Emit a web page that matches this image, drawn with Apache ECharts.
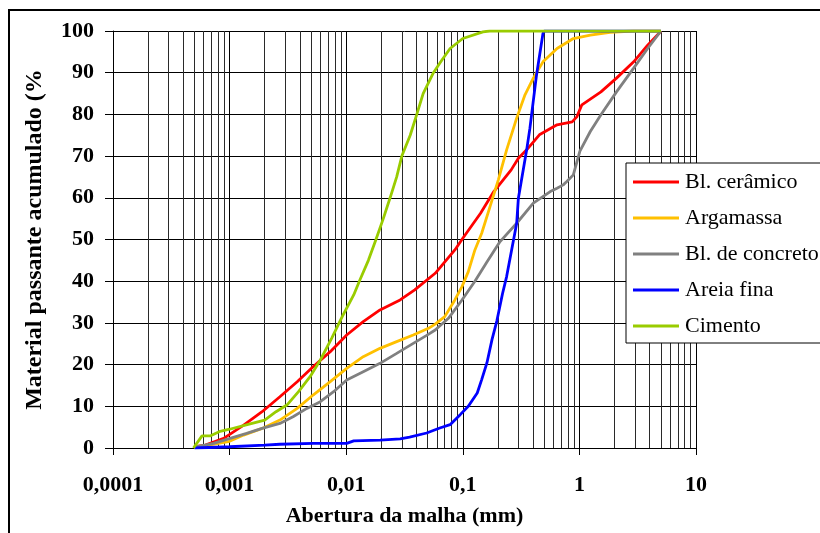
<!DOCTYPE html>
<html>
<head>
<meta charset="utf-8">
<script src="https://cdn.jsdelivr.net/npm/echarts@6/dist/echarts.min.js"></script>
<style>
html,body{margin:0;padding:0;background:#fff;}
#chart{width:820px;height:533px;}
</style>
</head>
<body>
<div id="chart"></div>
<script>
// ---- Data ----
var seriesNames = ['Bl. cerâmico', 'Argamassa', 'Bl. de concreto', 'Areia fina', 'Cimento'];
var seriesColors = ['#ff0000', '#ffc000', '#808080', '#0000ff', '#99cc00'];

var ceramicoX = [0.0005, 0.00062, 0.00089, 0.00132, 0.0019, 0.0027, 0.0038, 0.0052, 0.0073, 0.0101, 0.014, 0.0195, 0.029, 0.0387, 0.058, 0.0855, 0.1, 0.142, 0.1845, 0.26, 0.2997, 0.353, 0.4538, 0.643, 0.866, 0.95, 1.05, 1.53, 2.08, 2.92, 3.85, 4.8, 5];
var ceramicoY = [0.3, 0.7, 2.3, 5.5, 8.7, 12.3, 15.9, 19.5, 23.1, 27.1, 30.3, 33.1, 35.5, 37.9, 41.9, 47.5, 50.3, 56.3, 61.5, 66.7, 69.5, 71.5, 75.1, 77.5, 78.2, 79.4, 82.3, 85.4, 88.7, 92.6, 96.6, 99.4, 100];

var argamassaX = [0.0005, 0.0007, 0.001, 0.00132, 0.0019, 0.0027, 0.0038, 0.0052, 0.0073, 0.0101, 0.014, 0.0195, 0.0271, 0.0376, 0.0508, 0.058, 0.07, 0.0855, 0.0984, 0.1115, 0.127, 0.1452, 0.1712, 0.2017, 0.2376, 0.2898, 0.3415, 0.4024, 0.487, 0.643, 0.887, 1.24, 1.83, 2.9, 5];
var argamassaY = [0.2, 0.8, 1.6, 3.1, 4.7, 6.7, 9.5, 12.7, 15.9, 19.1, 21.9, 23.9, 25.5, 27.1, 28.7, 29.7, 31.5, 35.5, 38.7, 42.3, 47.5, 51.5, 57.9, 64.3, 71.5, 79.1, 84.7, 88.7, 92.6, 95.8, 98.2, 99.0, 99.7, 100, 100];

var concretoX = [0.0005, 0.00073, 0.00101, 0.0014, 0.0019, 0.0027, 0.0035, 0.0046, 0.006, 0.0078, 0.0101, 0.014, 0.0195, 0.0271, 0.0376, 0.049, 0.058, 0.0753, 0.0984, 0.127, 0.16, 0.2087, 0.2898, 0.4024, 0.5624, 0.643, 0.7265, 0.78, 0.887, 0.92, 1.01, 1.24, 1.53, 2.08, 2.92, 3.85, 5];
var concretoY = [0.2, 1.1, 2.3, 3.5, 4.7, 5.9, 7.5, 9.5, 11.1, 13.5, 16.3, 18.3, 20.3, 22.7, 25.1, 27, 28.3, 31.1, 35.5, 40, 44.5, 49.5, 53.9, 58.7, 61.5, 62.3, 63.1, 63.9, 65.5, 67.1, 71.2, 75.9, 79.9, 85.4, 91.1, 95.8, 100];

var areiaX = [0.0005, 0.001, 0.002, 0.0027, 0.0052, 0.0101, 0.0116, 0.0195, 0.029, 0.035, 0.049, 0.0635, 0.0778, 0.095, 0.1115, 0.133, 0.1452, 0.161, 0.178, 0.196, 0.219, 0.2376, 0.2898, 0.2997, 0.353, 0.3764, 0.4286, 0.487, 0.5, 5];
var areiaY = [0, 0.3, 0.7, 0.9, 1.1, 1.1, 1.7, 1.9, 2.2, 2.6, 3.6, 4.8, 5.6, 8.0, 10, 13.2, 16.4, 20.4, 26.0, 30.5, 37, 41.1, 53.9, 59.9, 71.5, 76.7, 89.4, 99.4, 100, 100];

var cimentoX = [0.00049, 0.00058, 0.00068, 0.00083, 0.001, 0.0015, 0.002, 0.0025, 0.0031, 0.0039, 0.0049, 0.006, 0.0075, 0.0094, 0.0116, 0.0131, 0.0155, 0.018, 0.0208, 0.0238, 0.0271, 0.03, 0.0354, 0.0403, 0.0457, 0.056, 0.066, 0.0778, 0.1, 0.149, 0.17, 5];
var cimentoY = [0, 2.9, 2.9, 4.0, 4.5, 5.8, 6.7, 8.7, 10.3, 13.5, 17.1, 21.1, 26.3, 31.9, 36.7, 40.3, 45, 50, 55, 60, 65, 70, 75, 80, 85, 90, 93, 95.8, 98.2, 99.8, 100, 100];

var xTickLabels = ['0,0001', '0,001', '0,01', '0,1', '1', '10'];
var yTickValues = [0, 10, 20, 30, 40, 50, 60, 70, 80, 90, 100];

var xTitle = 'Abertura da malha (mm)';
var yTitle = 'Material passante acumulado (%';

// grid line positions of the log axis (decades and their 2..9 multiples)
var decades = [0.0001, 0.001, 0.01, 0.1, 1, 10];
var minorMult = [2, 3, 4, 5, 6, 7, 8, 9];

function zip(xs, ys) { return xs.map(function (x, i) { return [x, ys[i]]; }); }
var allX = [ceramicoX, argamassaX, concretoX, areiaX, cimentoX];
var allY = [ceramicoY, argamassaY, concretoY, areiaY, cimentoY];

var minorLines = [];
for (var d = 0; d < decades.length - 1; d++) {
  for (var m = 0; m < minorMult.length; m++) {
    var v = +(decades[d] * minorMult[m]).toPrecision(6);
    minorLines.push({ coords: [[v, 0], [v, 100]] });
  }
}
var majorLines = decades.map(function (v) { return { coords: [[v, 0], [v, 100]] }; });

var FONT = 'Liberation Serif';

var series = [{
  name: '_minor',
  type: 'lines',
  coordinateSystem: 'cartesian2d',
  silent: true,
  z: 1,
  symbol: ['none', 'none'],
  lineStyle: { color: '#2a2a2a', width: 1, opacity: 1, curveness: 0 },
  data: minorLines,
  animation: false
}, {
  name: '_major',
  type: 'lines',
  coordinateSystem: 'cartesian2d',
  silent: true,
  z: 1,
  symbol: ['none', 'none'],
  lineStyle: { color: '#000', width: 1, opacity: 1, curveness: 0 },
  data: majorLines,
  animation: false
}];
for (var s = 0; s < seriesNames.length; s++) {
  series.push({
    name: seriesNames[s],
    type: 'line',
    data: zip(allX[s], allY[s]),
    showSymbol: false,
    symbol: 'none',
    z: 3 + s,
    lineStyle: { color: seriesColors[s], width: 2.8 },
    itemStyle: { color: seriesColors[s] },
    smooth: false,
    animation: false
  });
}

var chart = echarts.init(document.getElementById('chart'), null, { renderer: 'canvas' });
chart.setOption({
  animation: false,
  backgroundColor: '#fff',
  textStyle: { fontFamily: FONT },
  grid: { left: 113, top: 31, width: 583, height: 417, containLabel: false },
  graphic: [{
    type: 'rect',
    shape: { x: 9, y: 10, width: 900, height: 700 },
    style: { fill: 'none', stroke: '#000', lineWidth: 2 },
    z: -10,
    silent: true
  }],
  legend: {
    data: seriesNames,
    orient: 'vertical',
    left: 626,
    top: 163,
    icon: 'rect',
    itemWidth: 46,
    itemHeight: 3,
    itemGap: 14,
    padding: [8, 300, 6, 7],
    backgroundColor: '#fff',
    borderColor: '#000',
    borderWidth: 1,
    borderRadius: 0,
    textStyle: { fontFamily: FONT, fontSize: 22, color: '#000', lineHeight: 22, padding: [0, 0, 0, 1] },
    selectedMode: false
  },
  xAxis: {
    type: 'log',
    logBase: 10,
    min: 0.0001,
    max: 10,
    name: xTitle,
    nameLocation: 'middle',
    nameGap: 57,
    nameTextStyle: { fontFamily: FONT, fontSize: 22, fontWeight: 'bold', color: '#000' },
    axisLine: { show: true, lineStyle: { color: '#000', width: 1 } },
    axisTick: { show: true, inside: false, length: 7, lineStyle: { color: '#000' } },
    axisLabel: {
      margin: 26,
      fontFamily: FONT, fontSize: 22, fontWeight: 'bold', color: '#000',
      formatter: function (v) {
        var k = Math.round(Math.log(v) / Math.LN10) + 4;
        return xTickLabels[k] !== undefined ? xTickLabels[k] : '';
      }
    },
    splitLine: { show: false },
    minorTick: { show: false },
    minorSplitLine: { show: false }
  },
  yAxis: {
    type: 'value',
    min: 0,
    max: 100,
    interval: 10,
    name: yTitle,
    nameLocation: 'middle',
    nameRotate: 90,
    nameGap: 66,
    nameTextStyle: { fontFamily: FONT, fontSize: 24, fontWeight: 'bold', color: '#000' },
    axisLine: { show: true, lineStyle: { color: '#000', width: 1 } },
    axisTick: { show: true, inside: false, length: 8, lineStyle: { color: '#000' } },
    axisLabel: {
      margin: 19,
      fontFamily: FONT, fontSize: 22, fontWeight: 'bold', color: '#000',
      formatter: function (v) { return yTickValues.indexOf(v) >= 0 ? String(v) : ''; }
    },
    splitLine: { show: true, lineStyle: { color: '#000', width: 1 } }
  },
  series: series
});
</script>
</body>
</html>
